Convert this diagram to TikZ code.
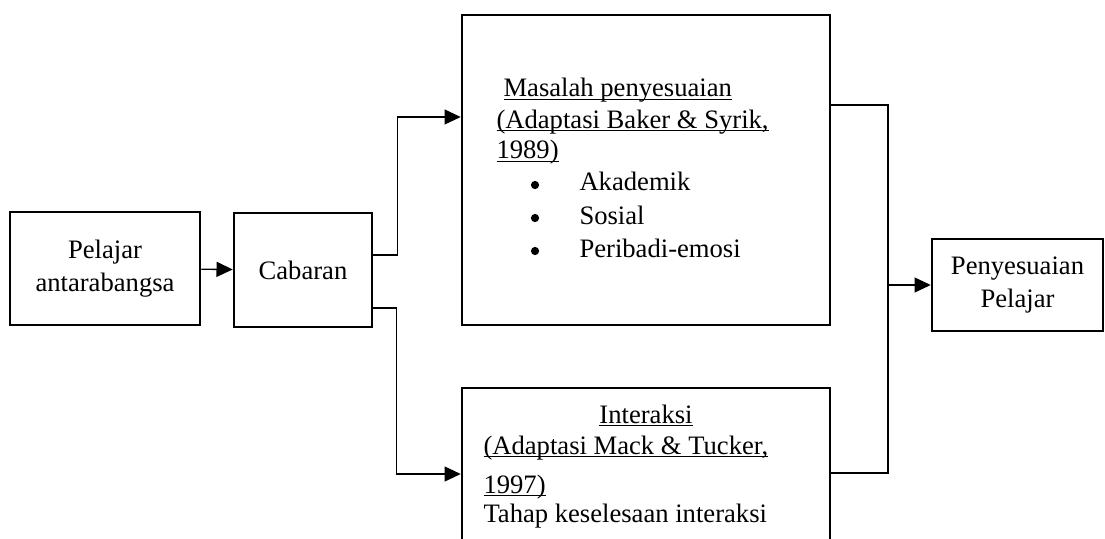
\documentclass[tikz,border=0pt]{standalone}
\usepackage{fontspec}
\setmainfont{Liberation Serif}
\usetikzlibrary{arrows.meta, positioning, calc}
\newcommand{\ulin}[1]{\leavevmode\setbox0\hbox{#1}\rlap{\rule[-1.3pt]{\wd0}{0.55pt}}\box0}

\begin{document}
\begin{tikzpicture}[x=0.4pt, y=-0.4pt,
  box/.style={rectangle, draw=black, line width=1pt, text centered, align=center,
    inner sep=0pt, font=\fontsize{10.65}{13.4}\selectfont},
  txt/.style={inner sep=0pt, anchor=base west, font=\fontsize{10.65}{12.4}\selectfont},
  dot/.style={circle, fill=black, inner sep=0pt, minimum size=3.3pt},
  line/.style={line width=0.55pt},
  arrow/.style={-{Triangle[length=6.5pt, width=6pt]}, line width=0.55pt}
]
\useasboundingbox (0,0) rectangle (1105,539);

% boxes
\node (pel) [box, minimum width=76pt, minimum height=45.2pt] at (105,268.5) {Pelajar\\antarabangsa};
\node (cab) [box, minimum width=55.2pt, minimum height=45.6pt] at (303,270) {Cabaran};
\node (mas) [box, minimum width=147.2pt, minimum height=124pt] at (646,170) {};
\node (int) [box, minimum width=147.2pt, minimum height=68.8pt] at (646,474) {};
\node (pen) [box, minimum width=68.4pt, minimum height=36.8pt] at (1017.5,285) {Penyesuaian\\Pelajar};

% text in box 3
\node (m1) [txt] at (503,97) {\ulin{Masalah penyesuaian}};
\node (m2) [txt] at (496,128) {\ulin{(Adaptasi Baker \& Syrik,}};
\node (m3) [txt] at (496,159) {\ulin{1989)}};
\node (b1) [dot] at (535,185) {};
\node (b2) [dot] at (535,218) {};
\node (b3) [dot] at (535,251) {};
\node (i1) [txt] at (579,191) {Akademik};
\node (i2) [txt] at (579,224) {Sosial};
\node (i3) [txt] at (579,257) {Peribadi-emosi};

% text in box 4
\node (n1) [txt, anchor=base] at (646,423) {\ulin{Interaksi}};
\node (n2) [txt] at (483,454) {\ulin{(Adaptasi Mack \& Tucker,}};
\node (n3) [txt] at (483,493) {\ulin{1997)}};
\node (n4) [txt] at (483,522) {Tahap keselesaan interaksi};

% arrows
\coordinate (junc) at (888,285);
\draw [arrow] (pel) -- (cab);
\draw [arrow] ($(cab.east)+(0,-15)$) -- ++(24,0) |- ($(mas.west)+(0,-53)$);
\draw [arrow] ($(cab.east)+(0,38)$) -- ++(23,0) |- (int.west);
\draw [line] ($(mas.east)+(0,-65)$) -| (junc) |- ($(int.east)+(0,-1)$);
\draw [arrow] (junc) -- (pen.west);

\end{tikzpicture}
\end{document}
